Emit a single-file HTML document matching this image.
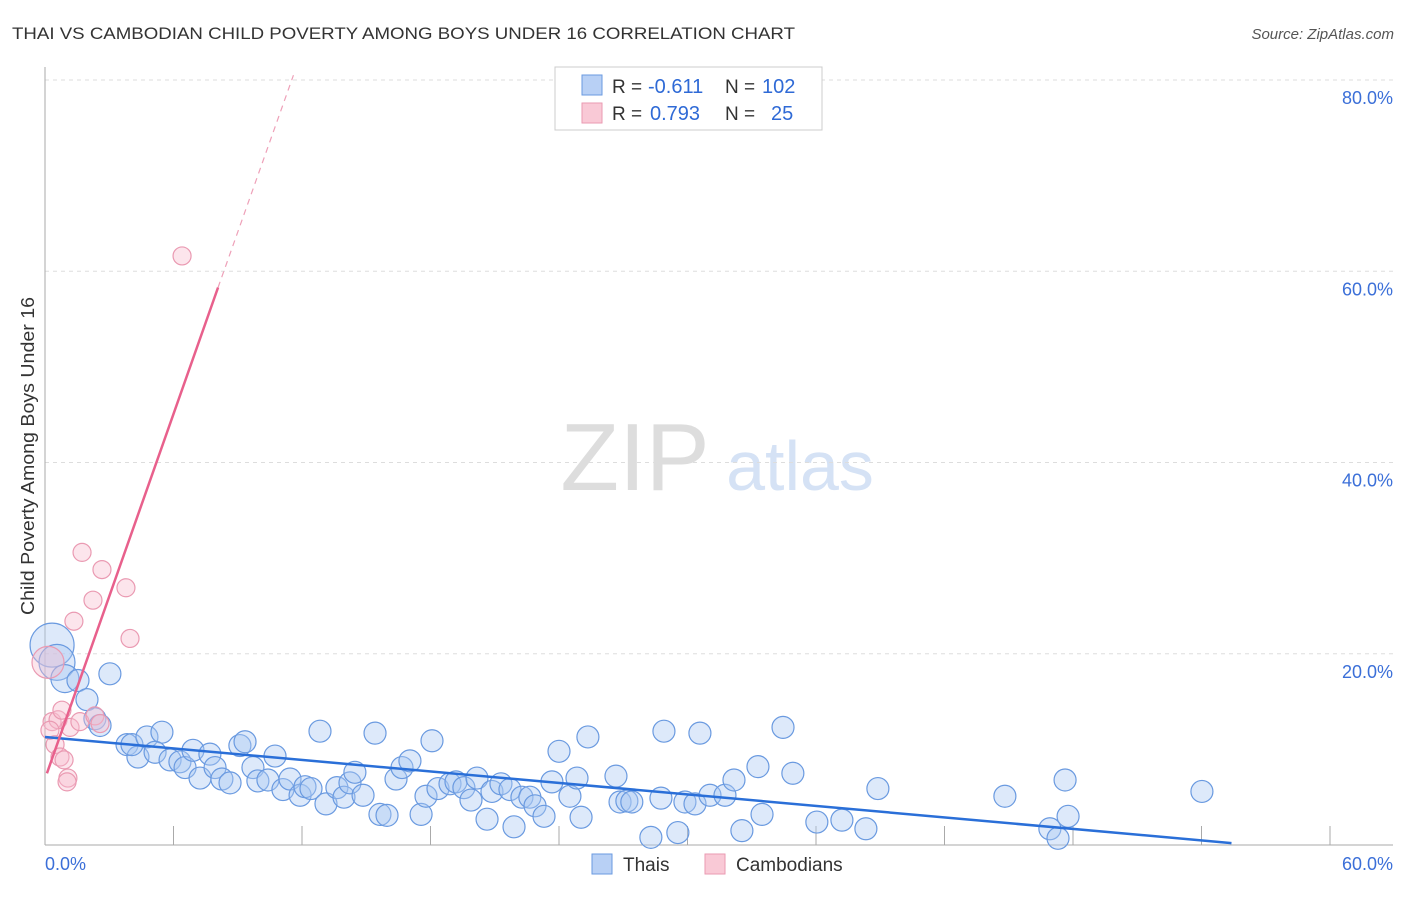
<!DOCTYPE html>
<html><head><meta charset="utf-8"><style>
body{margin:0;background:#fff;font-family:"Liberation Sans",sans-serif;}
svg text{font-family:"Liberation Sans",sans-serif;}
</style></head><body>
<svg id="chart" width="1406" height="892" xmlns="http://www.w3.org/2000/svg">
<text x="12" y="39" font-size="17" fill="#333" textLength="783" lengthAdjust="spacingAndGlyphs">THAI VS CAMBODIAN CHILD POVERTY AMONG BOYS UNDER 16 CORRELATION CHART</text>
<text x="1394" y="39" font-size="15" fill="#555" text-anchor="end" font-style="italic">Source: ZipAtlas.com</text>
<text x="34" y="456" font-size="18" fill="#333" text-anchor="middle" textLength="318" lengthAdjust="spacingAndGlyphs" transform="rotate(-90 34 456)">Child Poverty Among Boys Under 16</text>
<g><text x="635" y="490" font-size="96" fill="#ddd" font-family="Liberation Serif" text-anchor="middle">ZIP</text><text x="800" y="490" font-size="70" fill="#d5e2f5" text-anchor="middle">atlas</text></g>
<g id="grid"></g><g id="axes"></g><g id="marks"></g>
<g>
<rect x="555" y="67" width="267" height="63" fill="#fff" stroke="#ccc"/>
<rect x="582" y="75" width="20" height="20" fill="#b8d0f5" stroke="#6a9ae0"/>
<rect x="582" y="103" width="20" height="20" fill="#f9c9d6" stroke="#ea9ab2"/>
<text x="612" y="93" font-size="19" fill="#333">R =</text>
<text x="648" y="93" font-size="20" fill="#2f6ad6">-0.611</text>
<text x="725" y="93" font-size="19" fill="#333">N =</text>
<text x="762" y="93" font-size="20" fill="#2f6ad6">102</text>
<text x="612" y="120" font-size="19" fill="#333">R =</text>
<text x="650" y="120" font-size="20" fill="#2f6ad6">0.793</text>
<text x="725" y="120" font-size="19" fill="#333">N =</text>
<text x="771" y="120" font-size="20" fill="#2f6ad6">25</text>
</g>
<g>
<rect x="592" y="854" width="20" height="20" fill="#b8d0f5" stroke="#6a9ae0"/>
<text x="623" y="871" font-size="19" fill="#333">Thais</text>
<rect x="705" y="854" width="20" height="20" fill="#f9c9d6" stroke="#ea9ab2"/>
<text x="736" y="871" font-size="19" fill="#333">Cambodians</text>
</g>
</svg>
<script>
const xTickVals=[0,6,12,18,24,30,36,42,48,54,60];
const yTickVals=[20,40,60,80];
const yTickLabels=["20.0%","40.0%","60.0%","80.0%"];
const xEndLabels=["0.0%","60.0%"];
const thaiX=[0.33,0.56,0.93,1.54,1.96,3.03,2.33,2.57,3.83,4.34,4.06,4.76,5.46,5.14,5.84,6.30,6.54,6.91,7.24,7.70,7.94,8.26,8.64,9.10,9.34,9.71,9.94,10.41,10.74,11.11,11.44,11.91,12.14,12.42,12.84,13.12,13.63,13.96,14.24,14.47,14.85,15.41,15.64,15.97,16.39,16.67,17.04,17.56,17.79,18.07,18.35,18.91,19.19,19.56,19.89,20.17,20.64,20.87,21.29,21.71,21.90,22.27,22.64,22.88,23.30,23.67,24.00,24.51,24.84,25.03,25.35,26.66,26.85,27.17,27.40,28.29,28.76,28.90,29.55,29.88,30.35,30.58,31.05,31.75,32.17,32.54,33.29,33.48,34.46,34.92,36.04,37.21,38.33,38.89,44.82,46.92,47.30,47.63,47.77,54.02];
const thaiY=[20.9,19.1,17.4,17.2,15.2,17.9,13.2,12.5,10.5,9.2,10.5,11.3,11.8,9.7,8.9,8.7,8.1,9.9,7.0,9.5,8.1,6.9,6.5,10.4,10.8,8.1,6.7,6.8,9.3,5.8,6.9,5.2,6.1,5.9,11.9,4.3,6.0,5.0,6.5,7.6,5.2,11.7,3.2,3.1,6.9,8.1,8.8,3.2,5.1,10.9,5.9,6.4,6.6,6.0,4.7,7.0,2.7,5.6,6.4,5.8,1.9,5.0,5.0,4.1,3.0,6.6,9.8,5.1,7.0,2.9,11.3,7.2,4.5,4.6,4.5,0.8,4.9,11.9,1.3,4.5,4.3,11.7,5.2,5.2,6.8,1.5,8.2,3.2,12.3,7.5,2.4,2.6,1.7,5.9,5.1,1.7,0.7,6.8,3.0,5.6];
const camX=[0.14,6.40,1.73,2.66,3.78,2.24,1.35,3.97,0.33,0.61,0.79,1.17,0.47,0.70,0.89,1.07,1.03,1.63,2.33,2.57,0.23];
const camY=[19.1,61.6,30.6,28.8,26.9,25.6,23.4,21.6,12.9,13.1,14.1,12.3,10.5,9.2,8.9,7.0,6.6,12.9,13.5,12.7,12.0];
const thaiTrendX=[0,55.4], thaiTrendY=[11.3,0.2];
const camTrendX=[0.09,8.08,11.6], camTrendY=[7.5,58.3,80.5];

const X=v=>45+v*1285/60, Y=v=>845-v*9.5625;
const NS="http://www.w3.org/2000/svg";
function mk(parent,tag,attrs){const e=document.createElementNS(NS,tag);for(const k in attrs)e.setAttribute(k,attrs[k]);document.getElementById(parent).appendChild(e);return e;}
yTickVals.forEach((v,i)=>{
 const g=mk('grid','line',{x1:45,x2:1393,y1:Y(v),y2:Y(v),stroke:'#ddd','stroke-dasharray':'4,4'});
 
 
 const t=mk('axes','text',{x:1393,y:Y(v)+24,'font-size':18,fill:'#3b6fd8','text-anchor':'end'});t.textContent=yTickLabels[i];
 
 
});
const ax=mk('axes','line',{x1:45,x2:1393,y1:845,y2:845,stroke:'#aaa'});


const ay=mk('axes','line',{x1:45,x2:45,y1:67,y2:845,stroke:'#aaa'});


xTickVals.forEach(v=>{const t=mk('axes','line',{x1:X(v),x2:X(v),y1:v===0?845:826,y2:845,stroke:'#aaa'});
 
 });
const l0=mk('axes','text',{x:45,y:870,'font-size':18,fill:'#3b6fd8'});l0.textContent=xEndLabels[0];


const l1=mk('axes','text',{x:1393,y:870,'font-size':18,fill:'#3b6fd8','text-anchor':'end'});l1.textContent=xEndLabels[1];


thaiX.forEach((x,i)=>{const r=i===0?22:i===1?18:i===2?14:11;
 const c=mk('marks','circle',{cx:X(x),cy:Y(thaiY[i]),r:r,fill:'rgba(170,200,242,0.4)',stroke:'#6a9ae0','stroke-width':1.2});
 
 });
camX.forEach((x,i)=>{const r=i===0?16:9;
 const c=mk('marks','circle',{cx:X(x),cy:Y(camY[i]),r:r,fill:'rgba(248,190,208,0.4)',stroke:'#ea9ab2','stroke-width':1.2});
 
 });
const bt=mk('marks','line',{x1:X(thaiTrendX[0]),y1:Y(thaiTrendY[0]),x2:X(thaiTrendX[1]),y2:Y(thaiTrendY[1]),stroke:'#2a6fd8','stroke-width':2.5});


const pt=mk('marks','line',{x1:X(camTrendX[0]),y1:Y(camTrendY[0]),x2:X(camTrendX[1]),y2:Y(camTrendY[1]),stroke:'#e8608c','stroke-width':2.5});


const pd=mk('marks','line',{x1:X(camTrendX[1]),y1:Y(camTrendY[1]),x2:X(camTrendX[2]),y2:Y(camTrendY[2]),stroke:'#eea0b8','stroke-width':1.2,'stroke-dasharray':'6,5'});


</script>
</body></html>
